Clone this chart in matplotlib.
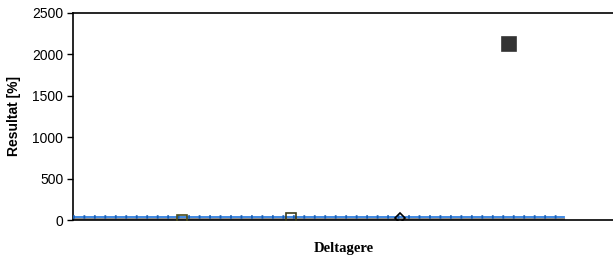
import matplotlib
matplotlib.use("Agg")
import matplotlib.pyplot as plt

# Data
participant_pos = [1, 2, 3, 4]
participant_vals = [0, 20, 25, 2120]
participant_markers = ["s", "s", "D", "s"]
participant_face = ["none", "none", "none", "#333333"]
participant_edge = ["#4d4d1a", "#3d3d1a", "black", "#333333"]
participant_size = [6.5, 6.5, 5.5, 9.5]

ref_x = [0, 4.5]
ref_upper = [32, 32]
ref_lower = [8, 8]

yticks = [0, 500, 1000, 1500, 2000, 2500]

fig = plt.figure(figsize=(6.13, 2.57), dpi=100)
ax = fig.add_axes([73/613, 1 - 220/257, 541/613, 207/257])

ax.plot(ref_x, ref_lower, color="#8c8c8c", lw=1.5, zorder=2)
ax.plot(ref_x, ref_upper, color="#2f7fe0", lw=1.3, zorder=3)
ax.plot(ref_x, ref_upper, color="#1a5fb4", lw=2.6, dashes=(0.5, 2.4), zorder=3)

for x, v, m, fc, ec, s in zip(participant_pos, participant_vals, participant_markers,
                              participant_face, participant_edge, participant_size):
    ax.plot([x], [v], marker=m, markersize=s, markerfacecolor=fc, markeredgecolor=ec,
            markeredgewidth=1.2, linestyle="none", zorder=4)

ax.set_xlim(0, 4.96)
ax.set_ylim(0, 2500)
ax.set_yticks(yticks)
ax.set_yticklabels([str(t) for t in yticks], family="Liberation Sans", fontsize=10)
ax.set_xticks([])
ax.tick_params(axis="y", length=4, width=1, pad=3)
for s in ["left", "bottom", "top", "right"]:
    ax.spines[s].set_linewidth(1.2)
    ax.spines[s].set_color("black")
ax.spines["right"].set_visible(False)

ax.set_ylabel("Resultat [%]", family="Liberation Sans", weight="bold", fontsize=10, labelpad=8)
ax.set_xlabel("Deltagere", family="Liberation Serif", weight="bold", fontsize=10.5, labelpad=16)

fig.savefig("out.png", dpi=100)
